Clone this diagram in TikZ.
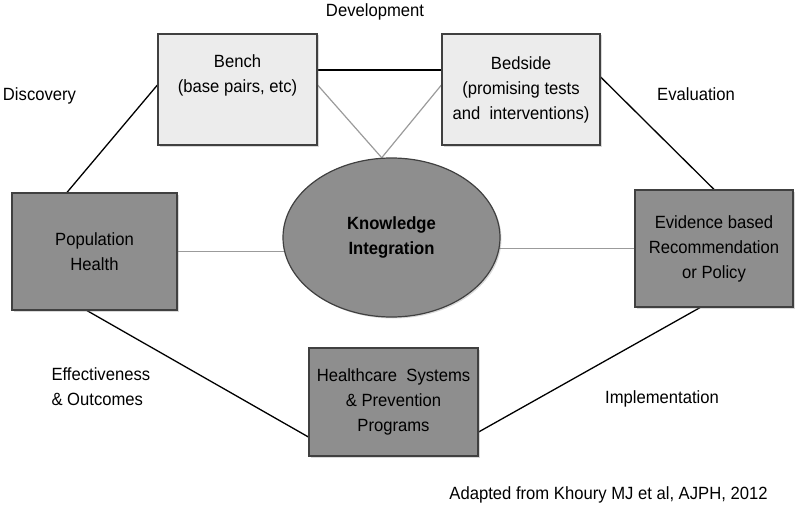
\documentclass[tikz,border=0pt]{standalone}
\usepackage{fontspec}
\setmainfont{Liberation Sans}[FakeStretch=0.94]
\usetikzlibrary{shapes.geometric,shadows,backgrounds}
\definecolor{boxlight}{RGB}{236,236,236}
\definecolor{boxdark}{RGB}{142,142,142}
\definecolor{boxedge}{RGB}{64,64,64}
\definecolor{linkgray}{RGB}{155,155,155}

\begin{document}
\begin{tikzpicture}[x=1pt, y=-1pt,
	   every node/.style={font=\fontsize{17.7}{25}\selectfont, align=center},
	   box/.style={draw=boxedge, line width=1.2pt, inner sep=0pt, drop shadow={shadow xshift=1.5pt, shadow yshift=-1.5pt, opacity=0.3}},
	   lightbox/.style={box, rectangle, fill=boxlight},
	   darkbox/.style={box, rectangle, fill=boxdark},
	   link/.style={line width=1.3pt, black},
	   faint/.style={line width=1.2pt, linkgray}]
	   \useasboundingbox (0,0) rectangle (800,511);
	   % the five stages round the ring
	   \node [lightbox, minimum width=159pt, minimum height=111pt] (bench) at (237.5,89.5) {Bench\\(base pairs, etc)\\\strut};
	   \node [lightbox, minimum width=158pt, minimum height=111pt] (bedside) at (521,89.5) {Bedside\\(promising tests\\and\ \ interventions)};
	   \node [darkbox, minimum width=165pt, minimum height=117pt] (pop) at (94.5,251.5) {Population\\Health};
	   \node [darkbox, minimum width=158pt, minimum height=117pt] (evid) at (714,248.5) {Evidence based\\Recommendation\\or Policy};
	   \node [darkbox, minimum width=169pt, minimum height=108pt] (hc) at (393.5,402) {Healthcare\ \ Systems\\\& Prevention\\Programs};
	   % the hub
	   \node [box, ellipse, fill=boxdark, minimum width=217pt, minimum height=159pt, font=\fontsize{17.7}{25}\selectfont\bfseries] (ki) at (391.5,237.5) {Knowledge\\Integration};
	   % phase names
	   \node (development) at (375,12) {Development};
	   \node (discovery) at (39.5,96) {Discovery};
	   \node (evaluation) at (696,94) {Evaluation};
	   \node [align=left, anchor=west] (effectiveness) at (48,387) {Effectiveness\\\& Outcomes};
	   \node (implementation) at (662,399) {Implementation};
	   \node (source) at (608.5,495) {Adapted from Khoury MJ et al, AJPH, 2012};
	   \begin{scope}[on background layer]
	   \draw [link] ([yshift=19.5pt]bench.east) -- ([yshift=19.5pt]bedside.west);
	   \draw [link] ([yshift=4.5pt]bench.west) -- ([xshift=-27.5pt]pop.north);
	   \draw [link] ([yshift=12.5pt]bedside.east) -- (evid.north);
	   \draw [link] ([xshift=-7.5pt]pop.south) -- ([yshift=-35pt]hc.west);
	   \draw [link] ([yshift=-30pt]hc.east) -- ([xshift=-14pt]evid.south);
	   % spokes to the hub
	   \draw [faint] ([yshift=4.5pt]bench.east) -- (ki.97);
	   \draw [faint] ([yshift=4.5pt]bedside.west) -- (ki.97);
	   \draw [faint] (pop.east) -- (pop.east -| ki.center);
	   \draw [faint] (evid.west) -- (evid.west -| ki.center);
	   \end{scope}
\end{tikzpicture}
\end{document}
